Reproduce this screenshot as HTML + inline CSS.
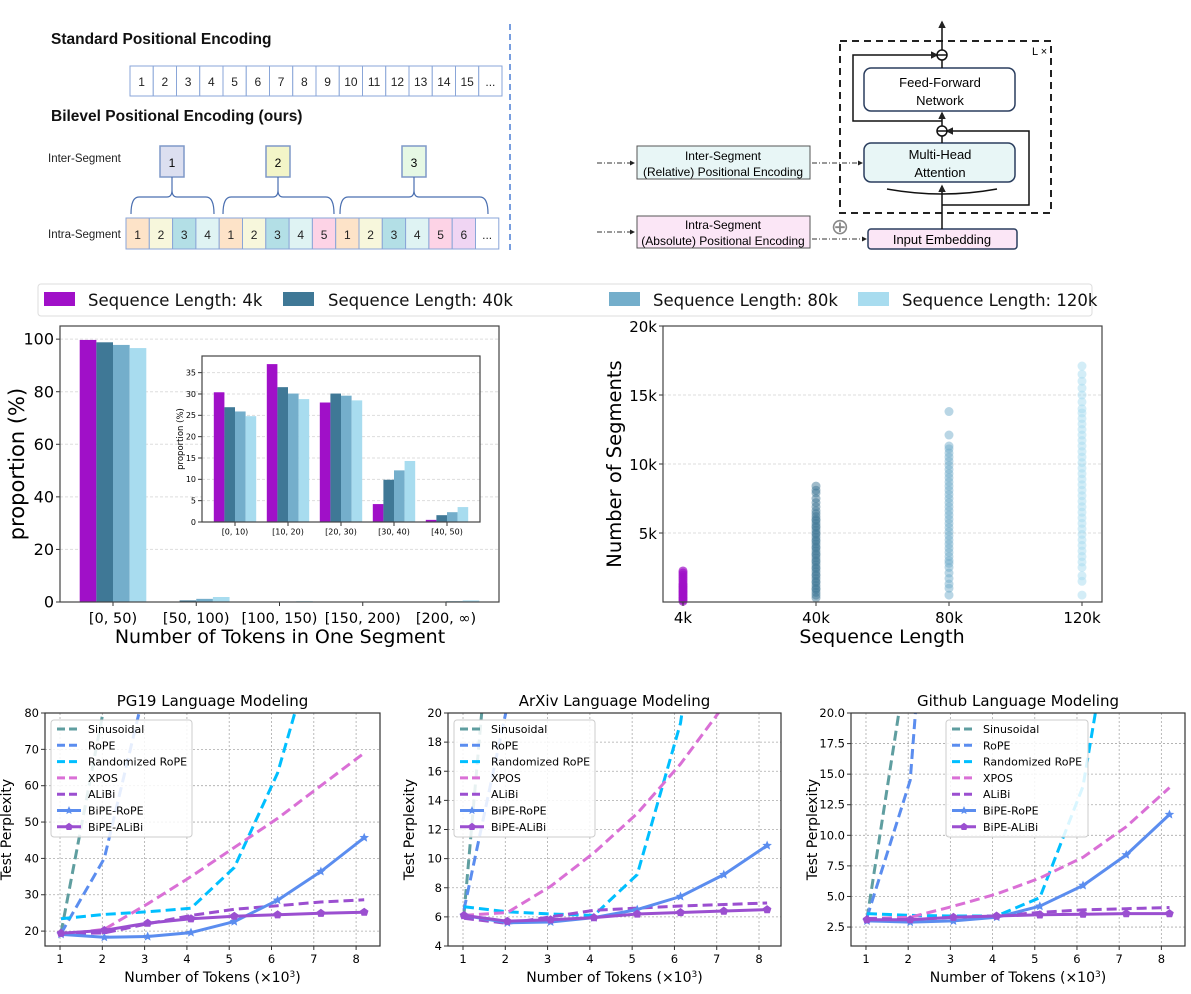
<!DOCTYPE html>
<html><head><meta charset="utf-8"><style>
body{margin:0;background:#fff;}
svg{display:block;font-family:"Liberation Sans","DejaVu Sans",sans-serif;}
.dv{font-family:"DejaVu Sans","Liberation Sans",sans-serif;}
</style></head><body>
<svg id="fig" width="1191" height="994" viewBox="0 0 1191 994" xmlns="http://www.w3.org/2000/svg">
<defs>
<marker id="arrs" markerWidth="5" markerHeight="5" refX="4" refY="2.5" orient="auto"><path d="M0,0 L5,2.5 L0,5z" fill="#222"/></marker>
</defs>
<g id="diagram">
<text x="51" y="44" font-size="15.5" font-weight="bold" fill="#111">Standard Positional Encoding</text>
<text x="51" y="121" font-size="15.5" font-weight="bold" fill="#111">Bilevel Positional Encoding (ours)</text>
<text x="48" y="162" font-size="11.5" fill="#222">Inter-Segment</text>
<text x="48" y="238" font-size="11.5" fill="#222">Intra-Segment</text>
<g id="stdrow"></g>
<g id="intrarow"></g>
<g id="segboxes"></g>
<line x1="510" y1="24" x2="510" y2="252" stroke="#4a7fd6" stroke-width="1.5" stroke-dasharray="6,4"/>
<line x1="597" y1="163" x2="634" y2="163" stroke="#333" stroke-dasharray="5,2,1,2" marker-end="url(#arrs)"/>
<line x1="597" y1="232" x2="634" y2="232" stroke="#333" stroke-dasharray="5,2,1,2" marker-end="url(#arrs)"/>
<rect x="637" y="146" width="173" height="33" fill="#e8f6f6" stroke="#555"/>
<text x="723" y="160" font-size="12" text-anchor="middle">Inter-Segment</text>
<text x="723" y="176" font-size="12" text-anchor="middle">(Relative) Positional Encoding</text>
<rect x="637" y="216" width="173" height="32" fill="#fbe6f6" stroke="#555"/>
<text x="723" y="229" font-size="12" text-anchor="middle">Intra-Segment</text>
<text x="723" y="245" font-size="12" text-anchor="middle">(Absolute) Positional Encoding</text>
<line x1="812" y1="163" x2="862" y2="163" stroke="#333" stroke-dasharray="5,2,1,2" marker-end="url(#arrs)"/>
<line x1="812" y1="239" x2="866" y2="239" stroke="#333" stroke-dasharray="5,2,1,2" marker-end="url(#arrs)"/>
<text x="840" y="234" font-size="22" fill="#888" text-anchor="middle">⊕</text>
<rect x="840" y="41" width="211" height="172" fill="none" stroke="#222" stroke-width="2" stroke-dasharray="7,5"/>
<text x="1032" y="55" font-size="11">L ×</text>
<rect x="864" y="68" width="151" height="43" rx="7" fill="#fff" stroke="#2a3d5e" stroke-width="1.5"/>
<text x="940" y="87" font-size="13" text-anchor="middle">Feed-Forward</text>
<text x="940" y="105" font-size="13" text-anchor="middle">Network</text>
<rect x="864" y="143" width="151" height="39" rx="7" fill="#e8f6f6" stroke="#2a3d5e" stroke-width="1.5"/>
<text x="940" y="159" font-size="13" text-anchor="middle">Multi-Head</text>
<text x="940" y="177" font-size="13" text-anchor="middle">Attention</text>
<rect x="868" y="229" width="149" height="20" rx="3" fill="#fbe6f6" stroke="#2a3d5e" stroke-width="1.5"/>
<text x="942" y="244" font-size="13" text-anchor="middle">Input Embedding</text>
<g stroke="#111" stroke-width="1.5" fill="none">
<line x1="942" y1="229" x2="942" y2="186" marker-end="url(#arrs)"/>
<path d="M942 205 L1029 205 L1029 131 L947 131" marker-end="url(#arrs)"/>
<path d="M887 189 Q942 199 997 189"/>
<line x1="942" y1="143" x2="942" y2="136"/>
<line x1="942" y1="126" x2="942" y2="113" marker-end="url(#arrs)"/>
<path d="M942 121 L853 121 L853 55 L937 55" marker-end="url(#arrs)"/>
<line x1="942" y1="68" x2="942" y2="60"/>
<line x1="942" y1="50" x2="942" y2="22" marker-end="url(#arrs)"/>
<circle cx="942" cy="131" r="5"/><line x1="937" y1="131" x2="947" y2="131"/>
<circle cx="942" cy="55" r="5"/><line x1="937" y1="55" x2="947" y2="55"/>
</g>
</g>

<g id="legend">
<rect x="38" y="284" width="1054" height="32" rx="3" fill="#fff" stroke="#ddd"/>
</g>
<g id="bars"></g>
<g id="inset"></g>
<g id="scatter"></g>
<g id="pg19"></g>
<g id="arxiv"></g>
<g id="github"></g>
</svg>
<script>
// ---------- data ----------
const stdTokens = ["1","2","3","4","5","6","7","8","9","10","11","12","13","14","15","..."];
const intraTokens = ["1","2","3","4","1","2","3","4","5","1","2","3","4","5","6","..."];
const seqLabels = ["Sequence Length: 4k","Sequence Length: 40k","Sequence Length: 80k","Sequence Length: 120k"];
const barCats = ["[0, 50)","[50, 100)","[100, 150)","[150, 200)","[200, ∞)"];
const bar4k = [99.7,0.1,0,0,0];
const bar40k = [98.8,0.6,0.1,0,0.1];
const bar80k = [97.8,1.2,0.2,0.05,0.3];
const bar120k = [96.6,1.9,0.3,0.1,0.6];
const barTicks = [0,20,40,60,80,100];
const insetCats = ["[0, 10)","[10, 20)","[20, 30)","[30, 40)","[40, 50)"];
const inset4k = [30.4,37.0,28.0,4.2,0.5];
const inset40k = [26.9,31.6,30.1,9.9,1.6];
const inset80k = [25.9,30.1,29.6,12.1,2.3];
const inset120k = [24.8,28.8,28.5,14.3,3.5];
const insetTicks = [0,5,10,15,20,25,30,35];
const scatterCats = ["4k","40k","80k","120k"];
const scatterTicks = [5,10,15,20];
const seg4k = [0.05,0.15,0.25,0.35,0.45,0.55,0.65,0.75,0.85,0.95,1.05,1.15,1.25,1.35,1.5,1.65,1.8,1.95,2.1,2.25];
const seg40k = [0.3,0.5,0.7,0.9,1.0,1.2,1.4,1.5,1.7,1.9,2.0,2.2,2.4,2.5,2.7,2.9,3.0,3.2,3.4,3.5,3.7,3.9,4.0,4.2,4.4,4.5,4.7,4.9,5.0,5.2,5.4,5.5,5.7,5.9,6.0,6.2,6.4,6.6,6.9,7.2,7.5,7.9,8.1,8.4];
const seg80k = [0.5,1.0,1.3,1.7,2.1,2.5,2.8,3.0,3.3,3.6,3.9,4.2,4.5,4.8,5.1,5.4,5.7,6.0,6.3,6.6,6.9,7.2,7.5,7.8,8.1,8.4,8.7,9.0,9.3,9.6,9.9,10.2,10.5,10.8,11.1,11.3,12.1,13.8];
const seg120k = [0.5,1.5,1.9,2.5,2.9,3.3,3.7,4.1,4.5,4.9,5.3,5.7,6.1,6.5,6.9,7.3,7.7,8.1,8.5,8.9,9.3,9.7,10.1,10.5,10.9,11.3,11.7,12.1,12.5,12.9,13.3,13.7,14.0,14.5,15.0,15.5,16.0,16.5,17.1];
const tokensX = [1.024,2.048,3.072,4.096,5.12,6.144,7.168,8.192];
const seriesNames = ["Sinusoidal","RoPE","Randomized RoPE","XPOS","ALiBi","BiPE-RoPE","BiPE-ALiBi"];
const pgSin = [19.5,82,200,300,400,500,600,700];
const pgRope = [19.3,40,90,200,300,400,500,600];
const pgRand = [23.4,24.6,25.3,26.3,37.5,63.5,105,150];
const pgXpos = [19.0,20.5,27.5,35.0,43.0,51.0,60.0,69.0];
const pgAlibi = [19.3,19.5,22.0,24.3,26.0,27.0,28.0,28.6];
const pgBipeRope = [19.1,18.3,18.5,19.6,22.6,28.5,36.4,45.7];
const pgBipeAlibi = [19.4,20.2,22.2,23.4,24.1,24.5,24.9,25.2];
const axSin = [6.2,40,80,120,160,200,240,280];
const axRope = [6.5,20.5,60,100,140,180,220,260];
const axRand = [6.7,6.35,6.2,6.1,8.9,19.3,40,60];
const axXpos = [6.1,6.3,8.1,10.4,13.1,16.5,20.5,26.0];
const axAlibi = [5.9,5.55,6.0,6.45,6.6,6.75,6.85,6.95];
const axBipeRope = [6.1,5.6,5.65,5.95,6.5,7.4,8.9,10.9];
const axBipeAlibi = [6.1,5.7,5.8,5.95,6.2,6.3,6.4,6.5];
const ghSin = [3.2,26,60,100,140,180,220,260];
const ghRope = [3.3,14.5,60,100,140,180,220,260];
const ghRand = [3.6,3.45,3.4,3.4,4.9,14.0,35,60];
const ghXpos = [3.2,3.3,4.2,5.2,6.5,8.2,10.7,13.9];
const ghAlibi = [3.2,3.1,3.3,3.4,3.7,3.9,4.0,4.1];
const ghBipeRope = [3.0,2.9,3.0,3.3,4.2,5.9,8.4,11.7];
const ghBipeAlibi = [3.1,3.1,3.3,3.4,3.5,3.55,3.6,3.6];
const pgTicks = [20,30,40,50,60,70,80];
const axTicks = [4,6,8,10,12,14,16,18,20];
const ghTicks = [2.5,5.0,7.5,10.0,12.5,15.0,17.5,20.0];
const xTicks = [1,2,3,4,5,6,7,8];

// ---------- helpers ----------
const NS="http://www.w3.org/2000/svg";
function el(tag, attrs, parent, txt){const e=document.createElementNS(NS,tag);for(const k in attrs)e.setAttribute(k,attrs[k]);if(txt!==undefined)e.textContent=txt;parent.appendChild(e);return e;}
const seqColors=["#a010c8","#3f7896","#74aecb","#a8dcef"];

const stdG=document.getElementById('stdrow');
stdTokens.forEach((t,i)=>{const w=23.25,x=130+i*w;
 const r=el('rect',{x:x,y:66,width:w,height:30,fill:'#fff',stroke:'#8aa6d8'},stdG);
 
 
 el('text',{x:x+w/2,y:86,'font-size':12,'text-anchor':'middle',fill:'#222'},stdG,t);});
const intraFill=["#fde3c8","#f7f7dc","#b3dfe6","#dff3f3","#fde3c8","#f7f7dc","#b3dfe6","#dff3f3","#fdd3e6","#fde3c8","#f7f7dc","#b3dfe6","#dff3f3","#fdd3e6","#f0d5f3","#fff"];
const inG=document.getElementById('intrarow');
intraTokens.forEach((t,i)=>{const w=23.3,x=126+i*w;
 const r=el('rect',{x:x,y:218,width:w,height:31,fill:intraFill[i],stroke:'#8aa6d8'},inG);
 
 
 el('text',{x:x+w/2,y:239,'font-size':12,'text-anchor':'middle',fill:'#222'},inG,t);});
const sg=document.getElementById('segboxes');
[[160,"#dcdff0","1",131,214],[266,"#f3f5c8","2",223,334],[402,"#e6f8e4","3",340,488]].forEach(s=>{
 const b=el('rect',{x:s[0],y:146,width:24,height:31,fill:s[1],stroke:'#7f98c8','stroke-width':1.5},sg);
 
 
 el('text',{x:s[0]+12,y:167,'font-size':12,'text-anchor':'middle'},sg,s[2]);
 const m=s[0]+12,x1=s[3],x2=s[4];
 el('path',{d:`M${x1} 214 Q${x1} 197 ${x1+8} 197 L${m-5} 197 Q${m} 197 ${m} 190 Q${m} 197 ${m+5} 197 L${x2-8} 197 Q${x2} 197 ${x2} 214 M${m} 190 L${m} 177`,fill:'none',stroke:'#4a6fb0','stroke-width':1.2},sg);
});

const lg=document.getElementById('legend');
[[44,88],[283,328],[609,653],[858,902]].forEach((p,i)=>{
 const r=el('rect',{x:p[0],y:292,width:31,height:14,fill:seqColors[i]},lg);
 
 
 el('text',{x:p[1],y:306,'font-size':16.5,class:'dv',fill:'#111'},lg,seqLabels[i]);
});

function barChart(g,cfg){
 const {x0,x1,y0,y1,ymax,cats,series,ticks,tfs,grid}=cfg;
 const ys=v=>y1-(v/ymax)*(y1-y0);
 const n=cats.length, step=(x1-x0-2*cfg.pad)/(n-1);
 const cx=i=>x0+cfg.pad+i*step, bw=step*0.8/4;
 ticks.forEach(t=>{ if(grid) el('line',{x1:x0,x2:x1,y1:ys(t),y2:ys(t),stroke:'#ddd','stroke-dasharray':'3,2'},g);
  el('line',{x1:x0-4,x2:x0,y1:ys(t),y2:ys(t),stroke:'#333'},g);
  el('text',{x:x0-6,y:ys(t)+tfs*0.35,'font-size':tfs,'text-anchor':'end',class:'dv'},g,t);});
 series.forEach((s,k)=>s.forEach((v,i)=>{
  const r=el('rect',{x:cx(i)-2*bw+k*bw,y:ys(v),width:bw,height:y1-ys(v),fill:seqColors[k]},g);
  
  }));
 cats.forEach((c,i)=>{el('line',{x1:cx(i),x2:cx(i),y1:y1,y2:y1+4,stroke:'#333'},g);
  el('text',{x:cx(i),y:y1+4+tfs*1.05,'font-size':cfg.cfs||tfs,'text-anchor':'middle',class:'dv'},g,c);});
 el('rect',{x:x0,y:y0,width:x1-x0,height:y1-y0,fill:'none',stroke:'#444','stroke-width':1.2},g);
}
const bg=document.getElementById('bars');
barChart(bg,{x0:60,x1:499,y0:326,y1:602,ymax:105,pad:53,cats:barCats,series:[bar4k,bar40k,bar80k,bar120k],ticks:barTicks,tfs:16,cfs:14.5,grid:true});
el('text',{x:24,y:464,'font-size':21,'text-anchor':'middle',class:'dv',transform:'rotate(-90 24 464)'},bg,'proportion (%)');
el('text',{x:280,y:643,'font-size':19,'text-anchor':'middle',class:'dv'},bg,'Number of Tokens in One Segment');
const ig=document.getElementById('inset');
el('rect',{x:202,y:356,width:278,height:166,fill:'#fff'},ig);
barChart(ig,{x0:202,x1:480,y0:356,y1:522,ymax:38.9,pad:33,cats:insetCats,series:[inset4k,inset40k,inset80k,inset120k],ticks:insetTicks,tfs:8,grid:true});
el('text',{x:183,y:439,'font-size':8.5,'text-anchor':'middle',class:'dv',transform:'rotate(-90 183 439)'},ig,'proportion (%)');

const sc=document.getElementById('scatter');
(function(){const x0=663,x1=1102,y0=326,y1=602;const ys=v=>y1-v/20*(y1-y0);
 const cx=i=>683+i*133;
 scatterTicks.forEach(t=>{ if(t<20) el('line',{x1:x0,x2:x1,y1:ys(t),y2:ys(t),stroke:'#ddd','stroke-dasharray':'3,2'},sc);
  el('line',{x1:x0-4,x2:x0,y1:ys(t),y2:ys(t),stroke:'#333'},sc);
  el('text',{x:x0-6,y:ys(t)+6,'font-size':15,'text-anchor':'end',class:'dv'},sc,t+'k');});
 [seg4k,seg40k,seg80k,seg120k].forEach((arr,k)=>arr.forEach(v=>{
  const c=el('circle',{cx:cx(k),cy:ys(v),r:4.5,fill:seqColors[k],'fill-opacity':k==0?0.7:0.5},sc);
  
  }));
 scatterCats.forEach((c,i)=>{el('line',{x1:cx(i),x2:cx(i),y1:y1,y2:y1+4,stroke:'#333'},sc);
  el('text',{x:cx(i),y:y1+21,'font-size':15,'text-anchor':'middle',class:'dv'},sc,c);});
 el('rect',{x:x0,y:y0,width:x1-x0,height:y1-y0,fill:'none',stroke:'#444','stroke-width':1.2},sc);
 el('text',{x:621,y:464,'font-size':19.5,'text-anchor':'middle',class:'dv',transform:'rotate(-90 621 464)'},sc,'Number of Segments');
 el('text',{x:882,y:643,'font-size':19,'text-anchor':'middle',class:'dv'},sc,'Sequence Length');
})();

const lineColors=["#5f9ea0","#5b8def","#00bfff","#da70d6","#9b4fd0","#5b8def","#9b4fd0"];
function star(x,y,r){let d='';for(let i=0;i<10;i++){const a=-Math.PI/2+i*Math.PI/5,rr=i%2?r*0.45:r;d+=(i?'L':'M')+(x+rr*Math.cos(a)).toFixed(1)+' '+(y+rr*Math.sin(a)).toFixed(1);}return d+'Z';}
function poly(x,y,r,n){let d='';for(let i=0;i<n;i++){const a=-Math.PI/2+i*2*Math.PI/n;d+=(i?'L':'M')+(x+r*Math.cos(a)).toFixed(1)+' '+(y+r*Math.sin(a)).toFixed(1);}return d+'Z';}
function lineChart(id,cfg){
 const g=document.getElementById(id);
 const {x0,x1,y0,y1,ymin,ymax,ticks,title,series,legX,tdec}=cfg;
 const xs=v=>x0+(v-cfg.xmin)*(x1-x0)/(cfg.xmax-cfg.xmin);
 const ys=v=>y1-(v-ymin)*(y1-y0)/(ymax-ymin);
 el('clipPath',{id:'c'+id},g);
 el('rect',{x:x0,y:y0,width:x1-x0,height:y1-y0},g.lastChild);
 ticks.forEach(t=>{el('line',{x1:x0,x2:x1,y1:ys(t),y2:ys(t),stroke:'#aaa','stroke-dasharray':'2,2','stroke-width':0.8},g);
  el('line',{x1:x0-4,x2:x0,y1:ys(t),y2:ys(t),stroke:'#333'},g);
  el('text',{x:x0-6,y:ys(t)+4,'font-size':11.5,'text-anchor':'end',class:'dv'},g,tdec?t.toFixed(1):t);});
 xTicks.forEach(t=>{el('line',{x1:xs(t),x2:xs(t),y1:y0,y2:y1,stroke:'#aaa','stroke-dasharray':'2,2','stroke-width':0.8},g);
  el('line',{x1:xs(t),x2:xs(t),y1:y1,y2:y1+4,stroke:'#333'},g);
  el('text',{x:xs(t),y:y1+17,'font-size':11.5,'text-anchor':'middle',class:'dv'},g,t);});
 const pg=el('g',{'clip-path':`url(#c${id})`},g);
 series.forEach((s,k)=>{
  const d=s.map((v,i)=>(i?'L':'M')+xs(tokensX[i]).toFixed(1)+' '+ys(v).toFixed(1)).join(' ');
  const p=el('path',{d:d,fill:'none',stroke:lineColors[k],'stroke-width':3,'stroke-dasharray':k<5?'10,5':'none','stroke-linejoin':'round'},pg);
  
  
  if(k>=5) s.forEach((v,i)=>{const m=el('path',{d:k==5?star(xs(tokensX[i]),ys(v),5):poly(xs(tokensX[i]),ys(v),4.5,5),fill:lineColors[k]},pg);
   
   });
 });
 el('rect',{x:x0,y:y0,width:x1-x0,height:y1-y0,fill:'none',stroke:'#333','stroke-width':1.2},g);
 el('text',{x:(x0+x1)/2,y:y0-7,'font-size':15,'text-anchor':'middle',class:'dv'},g,title);
 el('text',{x:x0-34,y:(y0+y1)/2,'font-size':14,'text-anchor':'middle',class:'dv',transform:`rotate(-90 ${x0-34} ${(y0+y1)/2})`},g,'Test Perplexity');
 const xt=el('text',{x:(x0+x1)/2,y:y1+36,'font-size':14,'text-anchor':'middle',class:'dv'},g);
 
 xt.appendChild(document.createTextNode('Number of Tokens (×10'));
 el('tspan',{'baseline-shift':'super','font-size':9},xt,'3');
 xt.appendChild(document.createTextNode(')'));
 const lgG=el('g',{},g);
 
 
 el('rect',{x:legX,y:720,width:cfg.legW,height:117,rx:3,fill:'#fff','fill-opacity':0.85,stroke:'#ccc'},lgG);
 seriesNames.forEach((n,k)=>{const yy=729+k*16.3;
  el('line',{x1:legX+6,x2:legX+30,y1:yy,y2:yy,stroke:lineColors[k],'stroke-width':3,'stroke-dasharray':k<5?'8,4':'none'},lgG);
  if(k>=5) el('path',{d:k==5?star(legX+18,yy,4.5):poly(legX+18,yy,4,5),fill:lineColors[k]},lgG);
  el('text',{x:legX+37,y:yy+4,'font-size':11,class:'dv'},lgG,n);});
}
lineChart('pg19',{x0:45,x1:380,y0:713,y1:946,xmin:0.645,xmax:8.565,ymin:15.9,ymax:80,ticks:pgTicks,title:'PG19 Language Modeling',series:[pgSin,pgRope,pgRand,pgXpos,pgAlibi,pgBipeRope,pgBipeAlibi],legX:51,legW:141});
lineChart('arxiv',{x0:448,x1:781,y0:713,y1:946,xmin:0.645,xmax:8.52,ymin:4,ymax:20,ticks:axTicks,title:'ArXiv Language Modeling',series:[axSin,axRope,axRand,axXpos,axAlibi,axBipeRope,axBipeAlibi],legX:454,legW:141});
lineChart('github',{x0:851,x1:1185,y0:713,y1:946,xmin:0.645,xmax:8.56,ymin:0.95,ymax:20,ticks:ghTicks,title:'Github Language Modeling',series:[ghSin,ghRope,ghRand,ghXpos,ghAlibi,ghBipeRope,ghBipeAlibi],legX:946,legW:142,tdec:true});
</script>
</body></html>
